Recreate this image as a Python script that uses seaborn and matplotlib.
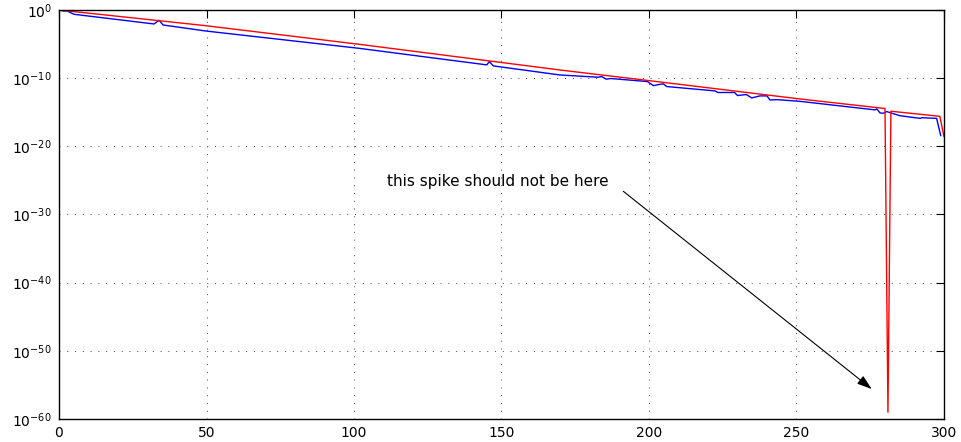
import numpy as np
import pandas as pd
import matplotlib
matplotlib.use("Agg")
import matplotlib.pyplot as plt
import matplotlib.ticker as mticker
import seaborn as sns

# ---- data (x, log10 of value) ----
red_x = [0, 49.7, 101.7, 150, 169.8, 200, 251.2, 280, 281, 282, 298.6, 300]
red_log = [0, -2.3, -5.03, -7.7, -8.8, -10.36, -13.05, -14.45, -59.0, -14.85,
           -15.6, -18.6]

blue_x = [0, 1.7, 2.5, 5.1, 32.2, 33.9, 35.3, 49.7, 101.7, 145, 145.9, 147.2,
          169.8, 182.7, 184, 185.5, 187, 199.5, 201.5, 203.7, 204.9, 206,
          222.4, 223.3, 229, 230, 233, 234.8, 237.6, 240, 241, 243.3, 251.2,
          276.6, 277.2, 278.3, 279.4, 280.6, 282, 285, 291.9, 292.5, 297.5,
          298.9]
blue_log = [0, -0.15, -0.1, -0.63, -2.05, -1.51, -2.2, -3.08, -5.62, -8.05,
            -7.57, -8.2, -9.53, -9.86, -9.76, -10.15, -10.05, -10.5, -11.1,
            -10.9, -10.84, -11.23, -11.87, -12.1, -12.1, -12.55, -12.4, -12.9,
            -12.6, -12.6, -13.2, -13.15, -13.4, -14.65, -14.5, -15.1, -15.15,
            -14.9, -15.1, -15.5, -15.9, -15.8, -15.9, -18.45]

x_ticks = [0, 50, 100, 150, 200, 250, 300]
y_tick_exps = [0, -10, -20, -30, -40, -50, -60]

annot_text = "this spike should not be here"
annot_text_pos = (111.2, -25.1)
arrow_tail = (191.3, -26.6)
arrow_head = (275.5, -55.6)

# ---- plot ----
sns.set_style("white")
plt.rcParams["font.family"] = ["DejaVu Sans"]
plt.rcParams["text.color"] = "black"
plt.rcParams["xtick.color"] = "black"
plt.rcParams["ytick.color"] = "black"

fig = plt.figure(figsize=(9.62, 4.42), dpi=100)
ax = fig.add_axes([59 / 962, 1 - 419 / 442, (944 - 59) / 962, (419 - 10) / 442])

df_red = pd.DataFrame({"x": red_x, "y": np.power(10.0, red_log)})
df_blue = pd.DataFrame({"x": blue_x, "y": np.power(10.0, blue_log)})

sns.lineplot(data=df_blue, x="x", y="y", ax=ax, color="#0000FF", lw=1.0,
             estimator=None, sort=False)
sns.lineplot(data=df_red, x="x", y="y", ax=ax, color="#FF0000", lw=1.0,
             estimator=None, sort=False)

ax.set_yscale("log")
ax.set_xlim(0, 300)
ax.set_ylim(1e-60, 1e0)
ax.xaxis.set_major_locator(mticker.FixedLocator(x_ticks))
ax.yaxis.set_major_locator(mticker.FixedLocator([10.0 ** e for e in y_tick_exps]))
ax.yaxis.set_minor_locator(mticker.NullLocator())
ax.yaxis.set_major_formatter(mticker.LogFormatterSciNotation())
ax.set_xlabel("")
ax.set_ylabel("")

ax.grid(True, which="major", color="#444444", lw=0.7, linestyle=(0, (1, 7)))
ax.tick_params(axis="both", which="major", direction="in", top=True, right=True,
               length=6, width=0.8, color="black", labelcolor="black",
               labelsize=10, pad=5)
for sp in ax.spines.values():
    sp.set_visible(True)
    sp.set_color("black")
    sp.set_linewidth(1.0)

ax.text(annot_text_pos[0], 10.0 ** annot_text_pos[1], annot_text,
        ha="left", va="center", fontsize=11, color="black")
ax.annotate("", xy=(arrow_head[0], 10.0 ** arrow_head[1]),
            xytext=(arrow_tail[0], 10.0 ** arrow_tail[1]),
            arrowprops=dict(arrowstyle="-|>,head_length=0.9,head_width=0.3",
                            color="black", lw=0.8, shrinkA=0, shrinkB=0))

fig.savefig("out.png", dpi=100)
